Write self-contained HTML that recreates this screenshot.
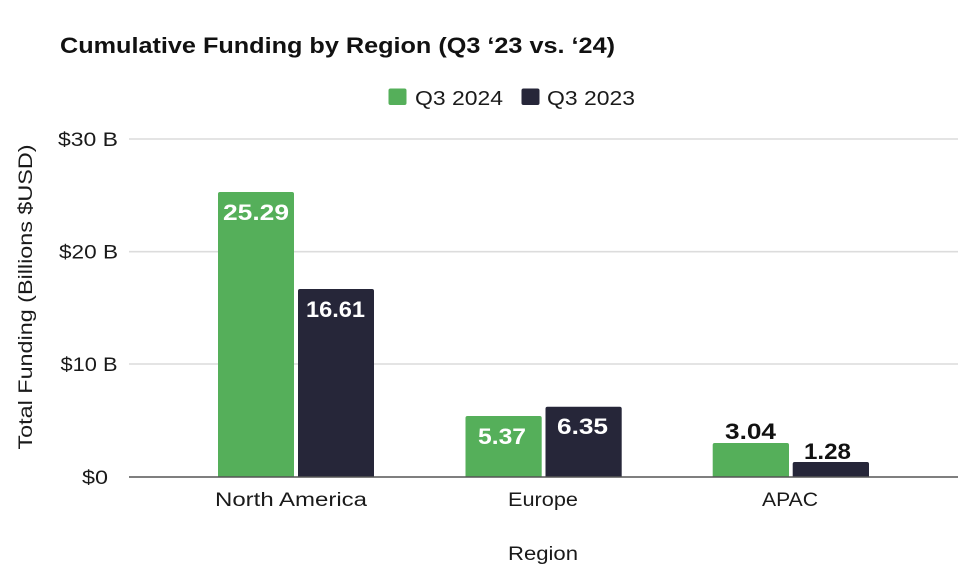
<!DOCTYPE html>
<html><head><meta charset="utf-8"><style>
html,body{margin:0;padding:0;background:#fff;}
svg{display:block;}
text{font-family:"Liberation Sans",sans-serif;}
</style></head><body>
<svg width="980" height="567" viewBox="0 0 980 567" xmlns="http://www.w3.org/2000/svg">
<rect width="980" height="567" fill="#fff"/>
<text x="60" y="53" font-size="22" font-weight="bold" fill="#111" textLength="555" lengthAdjust="spacingAndGlyphs">Cumulative Funding by Region (Q3 ‘23 vs. ‘24)</text>
<rect x="388.5" y="88.5" width="18" height="16.5" rx="2" fill="#55AF5A"/>
<text x="415" y="105" font-size="20" fill="#1a1a1a" textLength="88" lengthAdjust="spacingAndGlyphs">Q3 2024</text>
<rect x="521.5" y="88.5" width="18" height="16.5" rx="2" fill="#262639"/>
<text x="547" y="105" font-size="20" fill="#1a1a1a" textLength="88" lengthAdjust="spacingAndGlyphs">Q3 2023</text>
<g stroke="#dcdcdc" stroke-width="1.6">
<line x1="129" y1="139" x2="958" y2="139"/>
<line x1="129" y1="251.7" x2="958" y2="251.7"/>
<line x1="129" y1="364" x2="958" y2="364"/>
</g>
<g font-size="19" fill="#1a1a1a" text-anchor="end">
<text x="118" y="146" textLength="60" lengthAdjust="spacingAndGlyphs">$30 B</text>
<text x="118" y="258.5" textLength="59" lengthAdjust="spacingAndGlyphs">$20 B</text>
<text x="117.5" y="371" textLength="57" lengthAdjust="spacingAndGlyphs">$10 B</text>
<text x="108" y="484" textLength="26" lengthAdjust="spacingAndGlyphs">$0</text>
</g>
<text transform="translate(32,297) rotate(-90)" text-anchor="middle" font-size="19" fill="#1a1a1a" textLength="305" lengthAdjust="spacingAndGlyphs">Total Funding (Billions $USD)</text>
<g fill="#55AF5A">
<path d="M218,477 V194 Q218,192 220,192 H292 Q294,192 294,194 V477 Z"/>
<path d="M465.5,477 V418 Q465.5,416 467.5,416 H539.7 Q541.7,416 541.7,418 V477 Z"/>
<path d="M712.7,477 V445 Q712.7,443 714.7,443 H787 Q789,443 789,445 V477 Z"/>
</g>
<g fill="#262639">
<path d="M298,477 V291 Q298,289 300,289 H372 Q374,289 374,291 V477 Z"/>
<path d="M545.5,477 V408.7 Q545.5,406.7 547.5,406.7 H619.7 Q621.7,406.7 621.7,408.7 V477 Z"/>
<path d="M792.7,477 V464 Q792.7,462 794.7,462 H867 Q869,462 869,464 V477 Z"/>
</g>
<line x1="129" y1="477" x2="958" y2="477" stroke="#555" stroke-width="1.6"/>
<g font-size="22" font-weight="bold" text-anchor="middle">
<text x="256" y="220" fill="#fff" textLength="66" lengthAdjust="spacingAndGlyphs">25.29</text>
<text x="335.5" y="317" fill="#fff" textLength="59" lengthAdjust="spacingAndGlyphs">16.61</text>
<text x="502" y="444" fill="#fff" textLength="48" lengthAdjust="spacingAndGlyphs">5.37</text>
<text x="582.5" y="434" fill="#fff" textLength="51" lengthAdjust="spacingAndGlyphs">6.35</text>
<text x="750.5" y="439" fill="#111" textLength="51" lengthAdjust="spacingAndGlyphs">3.04</text>
<text x="827.5" y="459" fill="#111" textLength="47" lengthAdjust="spacingAndGlyphs">1.28</text>
</g>
<g font-size="19" fill="#1a1a1a" text-anchor="middle">
<text x="291" y="506" textLength="152" lengthAdjust="spacingAndGlyphs">North America</text>
<text x="543" y="506" textLength="70" lengthAdjust="spacingAndGlyphs">Europe</text>
<text x="790" y="506" textLength="56" lengthAdjust="spacingAndGlyphs">APAC</text>
<text x="543" y="560" textLength="70" lengthAdjust="spacingAndGlyphs">Region</text>
</g>
</svg>
</body></html>
